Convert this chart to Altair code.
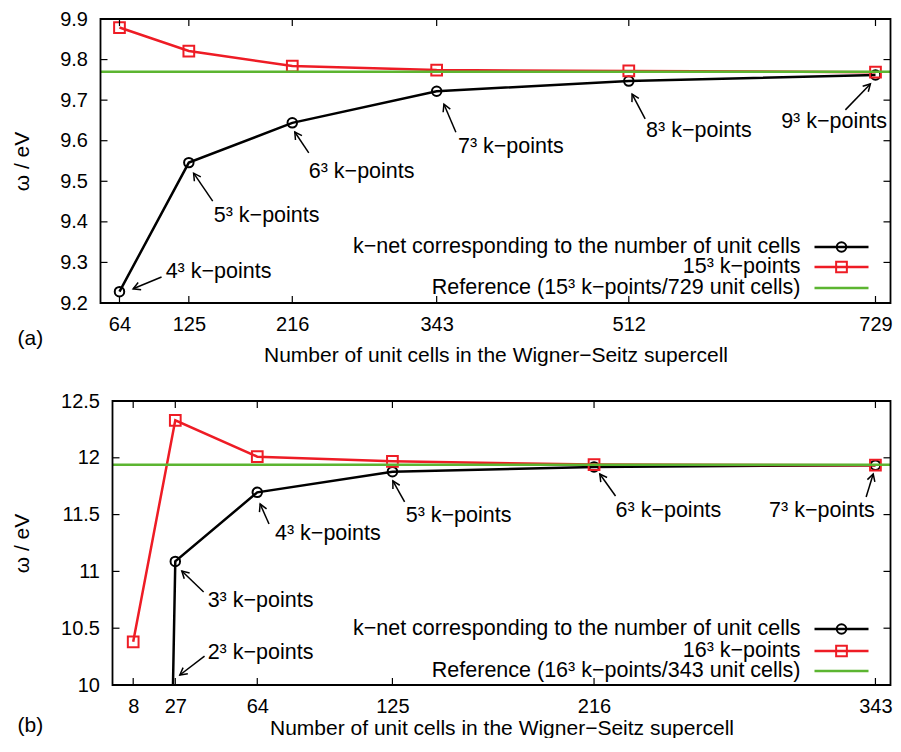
import math
import altair as alt
import pandas as pd

FONT = "Liberation Sans"
FS_TICK = 20
FS_TITLE = 21
FS_TEXT = 21.5
BLACK = "#000000"
RED = "#ee1c25"
GREEN = "#5cb531"

# ---------------- data: panel (a) ----------------
a_cells = [64, 125, 216, 343, 512, 729]
a_knet = [9.228, 9.546, 9.644, 9.722, 9.747, 9.762]
a_dense = [9.879, 9.821, 9.784, 9.774, 9.772, 9.769]
a_ref = 9.770
a_yticks = [9.2, 9.3, 9.4, 9.5, 9.6, 9.7, 9.8, 9.9]
a_xdomain = [47.3, 742.2]
a_ydomain = [9.2, 9.9]
a_legend = ["k\u2212net corresponding to the number of unit cells",
            "15\u00b3 k\u2212points",
            "Reference (15\u00b3 k\u2212points/729 unit cells)"]
a_ann_label = ["4\u00b3 k\u2212points", "5\u00b3 k\u2212points", "6\u00b3 k\u2212points",
               "7\u00b3 k\u2212points", "8\u00b3 k\u2212points", "9\u00b3 k\u2212points"]
a_ann_tipx = [76, 129.2, 218.2, 349.4, 514.9, 724.5]
a_ann_tipy = [9.235, 9.520, 9.6215, 9.690, 9.715, 9.740]
a_ann_tailx = [101, 146, 230.5, 359.9, 526.4, 702.5]
a_ann_taily = [9.264, 9.451, 9.570, 9.621, 9.654, 9.676]
a_ann_textx = [104.6, 146.9, 230.5, 361.7, 527.2, 646.0]
a_ann_texty = [9.276, 9.414, 9.523, 9.584, 9.624, 9.646]

# ---------------- data: panel (b) ----------------
b_cells = [8, 27, 64, 125, 216, 343]
b_knet = [-8.8, 11.088, 11.696, 11.878, 11.920, 11.935]
b_dense = [10.38, 12.33, 12.01, 11.969, 11.940, 11.935]
b_ref = 11.939
b_yticks = [10, 10.5, 11, 11.5, 12, 12.5]
b_xdomain = [-1.34, 349.8]
b_ydomain = [10, 12.5]
b_legend = ["k\u2212net corresponding to the number of unit cells",
            "16\u00b3 k\u2212points",
            "Reference (16\u00b3 k\u2212points/343 unit cells)"]
b_ann_label = ["2\u00b3 k\u2212points", "3\u00b3 k\u2212points", "4\u00b3 k\u2212points",
               "5\u00b3 k\u2212points", "6\u00b3 k\u2212points", "7\u00b3 k\u2212points"]
b_ann_tipx = [29.06, 29.95, 65.3, 125.2, 218.6, 342.0]
b_ann_tipy = [10.088, 11.0035, 11.593, 11.796, 11.857, 11.857]
b_ann_tailx = [40.2, 39.8, 69.3, 130.5, 225.7, 338.8]
b_ann_taily = [10.255, 10.819, 11.417, 11.611, 11.664, 11.655]
b_ann_textx = [41.6, 41.6, 72.0, 131.0, 225.7, 295.0]
b_ann_texty = [10.282, 10.739, 11.329, 11.488, 11.532, 11.532]

XTITLE = "Number of unit cells in the Wigner\u2212Seitz supercell"
YTITLE = "\u03c9 / eV"

ARROW = "M -1 -0.55 L 0 0 L -1 0.55"

# overall layout (pixels, relative to the plot origin)
TOTAL_W = 790
TOTAL_H = 666
PANEL_H = 284


def panel(cells, knet, dense, ref, yticks, xdom, ydom, yfmt, legend,
          lab, tipx, tipy, tailx, taily, textx, texty,
          left, top, ytitle_x, xtitle_y, tag, tag_x, tag_dy, legend_ys):
    right = TOTAL_W
    bottom = top + PANEL_H
    W = right - left
    H = PANEL_H
    xs = alt.Scale(domain=xdom, range=[left, right], nice=False, zero=False)
    ys = alt.Scale(domain=ydom, range=[bottom, top], nice=False, zero=False)
    xaxis = alt.Axis(values=cells, ticks=False, domain=False, grid=False, format="d",
                     orient="bottom", offset=-(TOTAL_H - bottom),
                     labelFontSize=FS_TICK, labelFont=FONT, labelColor=BLACK, labelPadding=11,
                     labelFlush=False, labelOverlap=False,
                     titleFontSize=FS_TITLE, titleFont=FONT, titleFontWeight="normal",
                     titleColor=BLACK, titleY=xtitle_y, titleBaseline="middle")
    yaxis = alt.Axis(values=yticks, ticks=False, domain=False, grid=False, format=yfmt,
                     orient="left", offset=-left,
                     labelFontSize=FS_TICK, labelFont=FONT, labelColor=BLACK, labelPadding=13,
                     titleFontSize=FS_TITLE, titleFont=FONT, titleFontWeight="normal",
                     titleColor=BLACK, titleAngle=270, titleX=ytitle_x, titleY=top + H / 2,
                     titleBaseline="middle", titleAlign="center")

    def X(f):
        return alt.X(f, type="quantitative", scale=xs, axis=xaxis, title=XTITLE)

    def Y(f):
        return alt.Y(f, type="quantitative", scale=ys, axis=yaxis, title=YTITLE)

    df = pd.DataFrame({"cells": cells, "knet": knet, "dense": dense})
    refdf = pd.DataFrame({"ref": [ref], "x0": [xdom[0]], "x1": [xdom[1]]})

    sx = W / (xdom[1] - xdom[0])
    sy = H / (ydom[1] - ydom[0])
    ang = []
    for i in range(len(lab)):
        dxp = (tipx[i] - tailx[i]) * sx
        dyp = -(tipy[i] - taily[i]) * sy
        ang.append(math.degrees(math.atan2(dyp, dxp)) % 360)
    ann = pd.DataFrame({"label": lab, "tipx": tipx, "tipy": tipy, "tailx": tailx,
                        "taily": taily, "textx": textx, "texty": texty, "ang": ang})

    black_line = alt.Chart(df).mark_line(color=BLACK, strokeWidth=2.5, clip=True).encode(
        x=X("cells"), y=Y("knet"))
    black_pts = alt.Chart(df).mark_point(shape="circle", filled=False, color=BLACK,
                                         strokeWidth=2, size=90, opacity=1, clip=True).encode(
        x=X("cells"), y=Y("knet"))
    red_line = alt.Chart(df).mark_line(color=RED, strokeWidth=2.5, clip=True).encode(
        x=X("cells"), y=Y("dense"))
    red_pts = alt.Chart(df).mark_point(shape="square", filled=False, color=RED,
                                       strokeWidth=2, size=115, opacity=1, clip=True).encode(
        x=X("cells"), y=Y("dense"))
    green = alt.Chart(refdf).mark_rule(color=GREEN, strokeWidth=2.5).encode(
        x=X("x0"), x2="x1", y=Y("ref"))

    shafts = alt.Chart(ann).mark_rule(color=BLACK, strokeWidth=1.5).encode(
        x=X("tailx"), y=Y("taily"), x2="tipx", y2="tipy")
    heads = alt.Chart(ann).mark_point(shape=ARROW, filled=False, color=BLACK, strokeWidth=1.5,
                                      size=200, opacity=1).encode(
        x=X("tipx"), y=Y("tipy"), angle=alt.Angle("ang:Q", scale=None))
    texts = alt.Chart(ann).mark_text(align="left", baseline="middle", font=FONT,
                                     fontSize=FS_TEXT, color=BLACK).encode(
        x=X("textx"), y=Y("texty"), text="label:N")

    xt = pd.DataFrame({"v": cells})
    yt = pd.DataFrame({"v": yticks})
    tick_b = alt.Chart(xt).mark_rule(color=BLACK, strokeWidth=1.2).encode(
        x=X("v"), y=alt.value(bottom), y2=alt.value(bottom - 7))
    tick_t = alt.Chart(xt).mark_rule(color=BLACK, strokeWidth=1.2).encode(
        x=X("v"), y=alt.value(top), y2=alt.value(top + 7))
    tick_l = alt.Chart(yt).mark_rule(color=BLACK, strokeWidth=1.2).encode(
        y=Y("v"), x=alt.value(left), x2=alt.value(left + 7))
    tick_r = alt.Chart(yt).mark_rule(color=BLACK, strokeWidth=1.2).encode(
        y=Y("v"), x=alt.value(right), x2=alt.value(right - 7))

    one = pd.DataFrame({"a": [0]})
    frame = alt.Chart(one).mark_rect(fill="transparent", stroke=BLACK, strokeWidth=1.8).encode(
        x=alt.value(left), x2=alt.value(right), y=alt.value(top), y2=alt.value(bottom))

    leg = []
    colors = [BLACK, RED, GREEN]
    shapes = ["circle", "square", None]
    sizes = [90, 115, 0]
    legend_right = right - 90
    for i in range(3):
        ly = top + legend_ys[i]
        leg.append(alt.Chart(one).mark_text(align="right", baseline="middle", font=FONT,
                                            fontSize=FS_TEXT, color=BLACK).encode(
            x=alt.value(legend_right), y=alt.value(ly), text=alt.value(legend[i])))
        leg.append(alt.Chart(one).mark_rule(color=colors[i], strokeWidth=2.5).encode(
            x=alt.value(legend_right + 14), x2=alt.value(legend_right + 68), y=alt.value(ly)))
        if shapes[i]:
            leg.append(alt.Chart(one).mark_point(shape=shapes[i], filled=False,
                                                 color=colors[i], strokeWidth=2,
                                                 size=sizes[i], opacity=1).encode(
                x=alt.value(legend_right + 41), y=alt.value(ly)))

    tagm = alt.Chart(one).mark_text(align="left", baseline="middle", font=FONT,
                                    fontSize=FS_TITLE, color=BLACK).encode(
        x=alt.value(tag_x), y=alt.value(bottom + tag_dy), text=alt.value(tag))

    return alt.layer(black_line, black_pts, red_line, red_pts, green, shafts, heads,
                     texts, tick_b, tick_t, tick_l, tick_r, frame, *leg, tagm)


top = panel(a_cells, a_knet, a_dense, a_ref, a_yticks, a_xdomain, a_ydomain, ".1f",
            a_legend, a_ann_label, a_ann_tipx, a_ann_tipy, a_ann_tailx, a_ann_taily,
            a_ann_textx, a_ann_texty, 0, 0, -78, 52, "(a)", -83, 36, [228, 248, 269])
bottom = panel(b_cells, b_knet, b_dense, b_ref, b_yticks, b_xdomain, b_ydomain, "~g",
               b_legend, b_ann_label, b_ann_tipx, b_ann_tipy, b_ann_tailx, b_ann_taily,
               b_ann_textx, b_ann_texty, 12, TOTAL_H - 284, -90, 43, "(b)", -83, 41,
               [228, 250, 270])

chart = alt.layer(top, bottom).resolve_scale(x="independent", y="independent").properties(
    width=TOTAL_W, height=TOTAL_H,
    padding={"left": 3.5, "top": 1, "right": 0, "bottom": 0}
).configure_view(stroke=None)

chart.save("out.html", embed_options={"renderer": "svg", "actions": False})
